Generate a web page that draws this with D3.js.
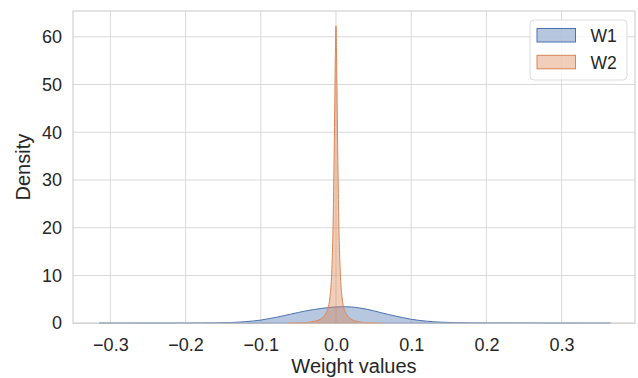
<!DOCTYPE html>
<html><head><meta charset="utf-8">
<script src="https://cdn.jsdelivr.net/npm/d3@7"></script>
<style>body{margin:0;background:#fff}svg{display:block;font-family:"Liberation Sans",Arial,sans-serif}</style>
</head><body><svg id="c" width="638" height="378"></svg>
<script>
const seriesNames = ["W1", "W2"];
const w1X = [-0.315,-0.28,-0.25,-0.22,-0.2,-0.18,-0.16,-0.14,-0.13,-0.12,-0.11,-0.1,-0.09,-0.08,-0.07,-0.06,-0.05,-0.04,-0.03,-0.02,-0.01,0.0,0.01,0.02,0.03,0.04,0.05,0.06,0.07,0.08,0.09,0.1,0.11,0.12,0.13,0.14,0.16,0.18,0.2,0.22,0.25,0.3,0.34,0.365];
const w1Y = [0.0,0.002,0.004,0.008,0.012,0.025,0.06,0.14,0.22,0.32,0.47,0.65,0.93,1.22,1.55,1.9,2.25,2.58,2.85,3.08,3.28,3.4,3.45,3.4,3.22,2.95,2.6,2.2,1.82,1.45,1.12,0.82,0.6,0.43,0.3,0.21,0.11,0.06,0.035,0.02,0.01,0.004,0.001,0.0];
const w2X = [-0.065,-0.06,-0.05,-0.04,-0.03,-0.02,-0.015,-0.01,-0.008,-0.006,-0.005,-0.004,-0.003,-0.002,-0.001,-0.0005,0.0,0.0005,0.001,0.002,0.003,0.004,0.005,0.006,0.008,0.01,0.015,0.02,0.03,0.04,0.05,0.06];
const w2Y = [0.0,0.01,0.04,0.12,0.35,0.9,1.7,3.5,5.5,9.5,13.5,19.5,29,41,54,59.5,62.3,59,53,40,28.5,19,13.5,9.5,5.5,3.4,1.6,0.85,0.3,0.1,0.03,0.0];
const xTicks = [-0.3,-0.2,-0.1,0.0,0.1,0.2,0.3];
const yTicks = [0,10,20,30,40,50,60];
const xLabel = "Weight values", yLabel = "Density";
const colors = ["#4c72b0", "#dd8452"];

const svg = d3.select("#c");
const L = 73, R = 635, T = 11, B = 323.2;
const x = d3.scaleLinear().domain([-0.3497, 0.3976]).range([L, R]);
const y = d3.scaleLinear().domain([0, 65.4]).range([B, T]);

// grid
const g = svg.append("g");
g.selectAll(".gx").data(xTicks).enter().append("line")
  .attr("x1", d => x(d)).attr("x2", d => x(d)).attr("y1", T).attr("y2", B)
  .attr("stroke", "#d9d9d9").attr("stroke-width", 1);
g.selectAll(".gy").data(yTicks).enter().append("line")
  .attr("y1", d => y(d)).attr("y2", d => y(d)).attr("x1", L).attr("x2", R)
  .attr("stroke", "#d9d9d9").attr("stroke-width", 1);

const series = [
  w1X.map((v, i) => [v, w1Y[i]]),
  w2X.map((v, i) => [v, w2Y[i]])
];
const area = d3.area().x(d => x(d[0])).y0(y(0)).y1(d => y(d[1])).curve(d3.curveMonotoneX);
series.forEach((s, i) => {
  svg.append("path").attr("d", area(s))
    .attr("fill", colors[i]).attr("fill-opacity", 0.4)
    .attr("stroke", colors[i]).attr("stroke-width", 1).attr("stroke-linejoin", "round");
});

// spines
svg.append("rect").attr("x", L).attr("y", T).attr("width", R - L).attr("height", B - T)
  .attr("fill", "none").attr("stroke", "#cccccc").attr("stroke-width", 1.1);

// axes
const xa = svg.append("g").attr("transform", `translate(0,${B})`)
  .call(d3.axisBottom(x).tickValues(xTicks).tickFormat(d3.format(".1f")).tickSize(0).tickPadding(15));
const ya = svg.append("g").attr("transform", `translate(${L},0)`)
  .call(d3.axisLeft(y).tickValues(yTicks).tickSize(0).tickPadding(11));
[xa, ya].forEach(a => {
  a.select(".domain").remove();
  a.selectAll("text").attr("font-size", 18).attr("fill", "#262626")
    .attr("font-family", '"Liberation Sans",Arial,sans-serif');
});

svg.append("text").attr("x", (L + R) / 2).attr("y", 372.5).attr("text-anchor", "middle")
  .attr("font-size", 20).attr("fill", "#262626").text(xLabel);
svg.append("text").attr("transform", `translate(29.5,${(T + B) / 2}) rotate(-90)`)
  .attr("text-anchor", "middle").attr("font-size", 20).attr("fill", "#262626").text(yLabel);

// legend
const lg = svg.append("g");
lg.append("rect").attr("x", 530).attr("y", 20).attr("width", 97).attr("height", 60).attr("rx", 4)
  .attr("fill", "#fff").attr("fill-opacity", 0.8).attr("stroke", "#dcdcdc").attr("stroke-width", 1);
seriesNames.forEach((n, i) => {
  const yy = 28.5 + i * 26.8;
  lg.append("rect").attr("x", 537).attr("y", yy).attr("width", 38.5).attr("height", 13.5)
    .attr("fill", colors[i]).attr("fill-opacity", 0.4).attr("stroke", colors[i]).attr("stroke-width", 1);
  lg.append("text").attr("x", 590.5).attr("y", yy + 13.3).attr("font-size", 17.5).attr("fill", "#262626").text(n);
});
</script></body></html>
